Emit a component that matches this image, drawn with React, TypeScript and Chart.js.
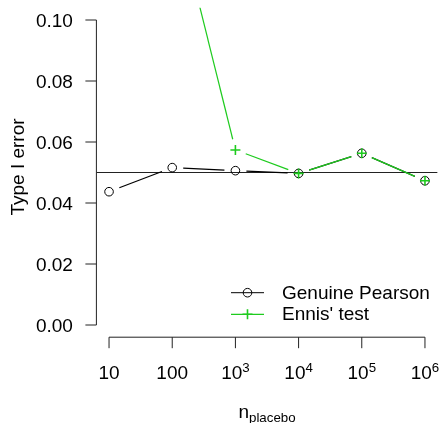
import React, { useEffect, useRef } from "react";
import { Chart, registerables } from "chart.js";

Chart.register(...registerables);

const xValues = [10, 100, 1000, 10000, 100000, 1000000];
const pearson = [0.0437, 0.0516, 0.0506, 0.0497, 0.0563, 0.0473];
const ennis = [0.32, 0.1406, 0.0574, 0.0497, 0.0563, 0.0473];
const refLine = 0.05;
const yTicks = [0, 0.02, 0.04, 0.06, 0.08, 0.1];
const yTickLabels = ["0.00", "0.02", "0.04", "0.06", "0.08", "0.10"];
const xTicks = [10, 100, 1000, 10000, 100000, 1000000];
const xTickBase = ["10", "100", "10", "10", "10", "10"];
const xTickExp = ["", "", "3", "4", "5", "6"];
const seriesNames = ["Genuine Pearson", "Ennis' test"];

const GREEN = "#1ecb1e";
const FONT = "'Liberation Sans', Arial, sans-serif";
const BIG = 19;
const SMALL = 13.3;
const GAP = 11;

function drawPlus(ctx: CanvasRenderingContext2D, x: number, y: number, r: number) {
  ctx.beginPath();
  ctx.moveTo(x - r, y);
  ctx.lineTo(x + r, y);
  ctx.moveTo(x, y - r);
  ctx.lineTo(x, y + r);
  ctx.stroke();
}

const rPlot = {
  id: "rPlot",
  beforeDatasetsDraw(chart: any) {
    const { ctx, chartArea, scales } = chart;
    ctx.save();
    ctx.beginPath();
    ctx.rect(chartArea.left, chartArea.top, chartArea.right - chartArea.left, chartArea.bottom - chartArea.top);
    ctx.clip();
    const yRef = scales.y.getPixelForValue(refLine);
    ctx.strokeStyle = "#222";
    ctx.lineWidth = 1;
    ctx.beginPath();
    ctx.moveTo(chartArea.left, yRef);
    ctx.lineTo(chartArea.right, yRef);
    ctx.stroke();
    const order = [1, 0];
    order.forEach((di) => {
      const meta = chart.getDatasetMeta(di);
      const ds = chart.data.datasets[di];
      ctx.strokeStyle = ds.borderColor;
      ctx.lineWidth = 1.2;
      for (let i = 0; i < meta.data.length - 1; i++) {
        const a = meta.data[i];
        const b = meta.data[i + 1];
        const dx = b.x - a.x;
        const dy = b.y - a.y;
        const d = Math.hypot(dx, dy);
        if (d <= 2 * GAP) continue;
        const ux = dx / d;
        const uy = dy / d;
        ctx.beginPath();
        ctx.moveTo(a.x + ux * GAP, a.y + uy * GAP);
        ctx.lineTo(b.x - ux * GAP, b.y - uy * GAP);
        ctx.stroke();
      }
    });
    ctx.restore();
  },
  afterDraw(chart: any) {
    const { ctx, chartArea, scales } = chart;
    const xs = scales.x;
    const ys = scales.y;
    ctx.save();
    ctx.strokeStyle = "#222";
    ctx.fillStyle = "#000";
    ctx.lineWidth = 1;
    // y axis
    const ax = chartArea.left;
    ctx.beginPath();
    ctx.moveTo(ax, ys.getPixelForValue(yTicks[0]));
    ctx.lineTo(ax, ys.getPixelForValue(yTicks[yTicks.length - 1]));
    yTicks.forEach((v) => {
      const py = ys.getPixelForValue(v);
      ctx.moveTo(ax, py);
      ctx.lineTo(ax - 11, py);
    });
    ctx.stroke();
    ctx.font = `${BIG}px ${FONT}`;
    ctx.textAlign = "right";
    ctx.textBaseline = "alphabetic";
    yTicks.forEach((v, i) => {
      const py = ys.getPixelForValue(v);
      ctx.fillText(yTickLabels[i], ax - 23.5, py + 6.8);
    });
    // x axis
    const ay = chartArea.bottom;
    ctx.beginPath();
    ctx.moveTo(xs.getPixelForValue(xTicks[0]), ay);
    ctx.lineTo(xs.getPixelForValue(xTicks[xTicks.length - 1]), ay);
    xTicks.forEach((v) => {
      const px = xs.getPixelForValue(v);
      ctx.moveTo(px, ay);
      ctx.lineTo(px, ay + 11);
    });
    ctx.stroke();
    ctx.textAlign = "left";
    xTicks.forEach((v, i) => {
      const px = xs.getPixelForValue(v);
      ctx.font = `${BIG}px ${FONT}`;
      const wb = ctx.measureText(xTickBase[i]).width;
      ctx.font = `${SMALL}px ${FONT}`;
      const we = xTickExp[i] ? ctx.measureText(xTickExp[i]).width : 0;
      const start = px - (wb + we) / 2;
      ctx.font = `${BIG}px ${FONT}`;
      ctx.fillText(xTickBase[i], start, ay + 42);
      if (xTickExp[i]) {
        ctx.font = `${SMALL}px ${FONT}`;
        ctx.fillText(xTickExp[i], start + wb, ay + 34.5);
      }
    });
    // x title
    const cx = (chartArea.left + chartArea.right) / 2;
    ctx.font = `${BIG}px ${FONT}`;
    const wn = ctx.measureText("n").width;
    ctx.font = `${SMALL}px ${FONT}`;
    const ws = ctx.measureText("placebo").width;
    const sx = cx - (wn + ws) / 2;
    ctx.font = `${BIG}px ${FONT}`;
    ctx.fillText("n", sx, 418);
    ctx.font = `${SMALL}px ${FONT}`;
    ctx.fillText("placebo", sx + wn, 422);
    // y title
    ctx.save();
    ctx.translate(24, 167);
    ctx.rotate(-Math.PI / 2);
    ctx.font = `${BIG}px ${FONT}`;
    ctx.textAlign = "center";
    ctx.fillText("Type I error", 0, 0);
    ctx.restore();
    // legend
    const rows = [292.7, 314.3];
    const colors = ["#000", GREEN];
    rows.forEach((ry, i) => {
      ctx.strokeStyle = colors[i];
      ctx.lineWidth = i === 0 ? 1 : 1.2;
      ctx.beginPath();
      ctx.moveTo(231, ry);
      ctx.lineTo(264, ry);
      ctx.stroke();
      if (i === 0) {
        ctx.beginPath();
        ctx.arc(247.5, ry, 4.3, 0, Math.PI * 2);
        ctx.stroke();
      } else {
        ctx.lineWidth = 1.6;
        drawPlus(ctx, 247.5, ry, 5);
      }
      ctx.fillStyle = "#000";
      ctx.font = `${BIG}px ${FONT}`;
      ctx.textAlign = "left";
      ctx.fillText(seriesNames[i], 282, ry + 6);
    });
    ctx.restore();
  },
};

export default function App() {
  const ref = useRef<HTMLCanvasElement | null>(null);
  useEffect(() => {
    if (!ref.current) return;
    const chart = new Chart(ref.current, {
      type: "line",
      data: {
        datasets: [
          {
            label: seriesNames[1],
            data: xValues.map((x, i) => ({ x, y: ennis[i] })),
            borderColor: GREEN,
            backgroundColor: "transparent",
            showLine: false,
            pointStyle: "cross",
            pointRadius: 5,
            pointBorderWidth: 1.6,
            pointBorderColor: GREEN,
            order: 0,
          },
          {
            label: seriesNames[0],
            data: xValues.map((x, i) => ({ x, y: pearson[i] })),
            borderColor: "#000",
            backgroundColor: "transparent",
            showLine: false,
            pointStyle: "circle",
            pointRadius: 4.3,
            pointBorderWidth: 1,
            pointBorderColor: "#000",
            pointBackgroundColor: "transparent",
            order: 1,
          },
        ],
      },
      options: {
        animation: false,
        responsive: false,
        maintainAspectRatio: false,
        devicePixelRatio: 1,
        layout: { autoPadding: false, padding: { left: 96.4, top: 7.8, right: 1.4, bottom: 85.8 } },
        plugins: { legend: { display: false }, tooltip: { enabled: false } },
        scales: {
          x: { type: "logarithmic", min: Math.pow(10, 0.8), max: Math.pow(10, 6.2), display: false },
          y: { type: "linear", min: -0.004, max: 0.104, display: false },
        },
      },
      plugins: [rPlot],
    } as any);
    return () => chart.destroy();
  }, []);
  return (
    <div style={{ position: "fixed", left: 0, top: 0, width: 439, height: 423, background: "#fff" }}>
      <canvas ref={ref} width={439} height={423} style={{ width: 439, height: 423, display: "block" }} />
    </div>
  );
}
